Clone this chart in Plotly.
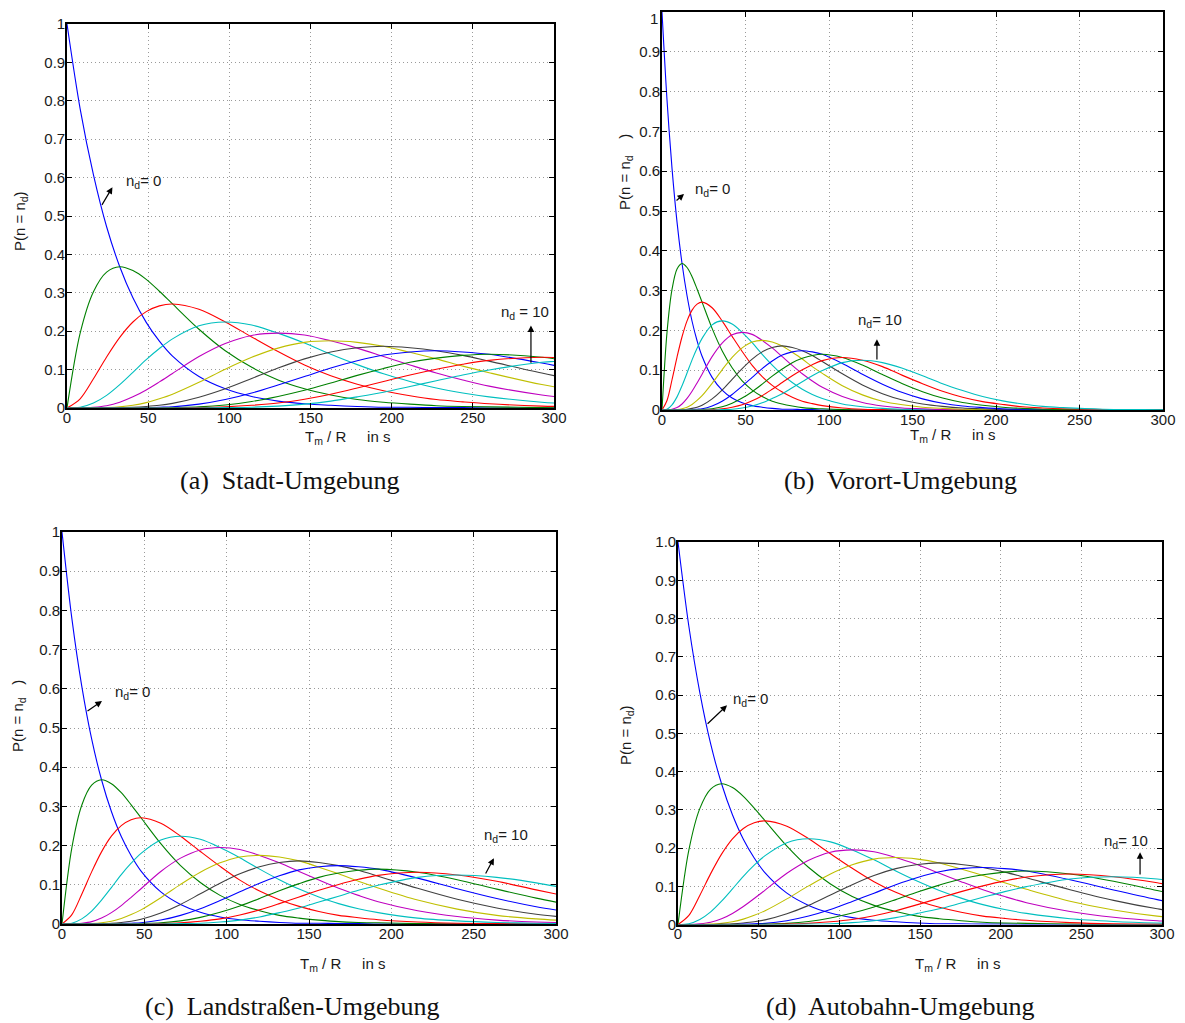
import plotly.graph_objects as go

# ---------------- data ----------------
# sample times (s) on the T_m / R axis for each environment
t_stadt = [0, 8.1, 16.3, 24.4, 32.5, 40.6, 48.8, 56.9, 65, 81.3, 97.5, 113.8, 130,
           146.3, 162.5, 178.8, 195, 211.3, 227.5, 243.8, 260, 292.5, 325]
t_vorort = [0, 3, 6, 9, 12, 15, 18, 21, 24, 30, 36, 42, 48, 54, 60, 66, 72, 78, 84, 90,
            96, 108, 120, 132, 144, 156, 168, 180, 192, 204, 216, 228, 240, 264, 288, 312]
t_land = [0, 6, 12, 18, 24, 30, 36, 42, 48, 60, 72, 84, 96, 108, 120, 132, 144, 156,
          168, 180, 192, 216, 240, 264, 288, 312]
t_autobahn = [0, 6.75, 13.5, 20.25, 27, 33.75, 40.5, 47.25, 54, 67.5, 81, 94.5, 108,
              121.5, 135, 148.5, 162, 175.5, 189, 202.5, 216, 243, 270, 297, 324]

# P(n = n_d) read at the sample positions (same shape in every panel, time-scaled)
p_nd0 = [1, .779, .607, .472, .368, .287, .223, .174, .135, .082, .050, .030, .018, .011,
         .007, .004, .002, .002, .001, .001, 0, 0, 0, 0, 0, 0, 0, 0, 0, 0, 0, 0, 0, 0, 0, 0]
p_nd1 = [0, .195, .303, .354, .368, .358, .335, .304, .271, .205, .149, .106, .073, .050,
         .034, .022, .015, .010, .006, .004, .003, .001, 0, 0, 0, 0, 0, 0, 0, 0, 0, 0, 0, 0, 0, 0]
p_nd2 = [0, .024, .076, .133, .184, .224, .251, .266, .271, .257, .224, .185, .147, .112,
         .084, .062, .045, .032, .022, .016, .011, .005, .002, .001, 0, 0, 0, 0, 0, 0, 0, 0, 0, 0, 0, 0]
p_nd3 = [0, .002, .013, .033, .061, .093, .126, .155, .180, .214, .224, .216, .195, .169,
         .140, .113, .089, .069, .052, .039, .029, .015, .008, .004, .002, .001, 0, 0, 0, 0, 0, 0, 0, 0, 0, 0]
p_nd4 = [0, 0, .002, .006, .015, .029, .047, .068, .090, .134, .168, .189, .195, .190,
         .175, .156, .134, .112, .091, .073, .057, .034, .019, .010, .005, .003, .001, .001, 0, 0, 0, 0, 0, 0, 0, 0]
p_nd5 = [0, 0, 0, .001, .003, .007, .014, .024, .036, .067, .101, .132, .156, .171,
         .175, .171, .161, .145, .128, .109, .092, .061, .038, .022, .013, .007, .004, .002, .001, 0, 0, 0, 0, 0, 0, 0]
p_nd6 = [0, 0, 0, 0, .001, .002, .004, .007, .012, .028, .050, .077, .104, .128,
         .146, .157, .161, .157, .149, .137, .122, .091, .063, .041, .025, .015, .009, .005, .003, .001, .001, 0, 0, 0, 0, 0]
p_nd7 = [0, 0, 0, 0, 0, 0, .001, .002, .003, .010, .022, .039, .060, .082,
         .104, .123, .138, .146, .149, .146, .140, .117, .090, .065, .044, .028, .017, .010, .006, .003, .002, .001, .001, 0, 0, 0]
p_nd8 = [0, 0, 0, 0, 0, 0, 0, 0, .001, .003, .008, .017, .030, .046,
         .065, .085, .103, .119, .130, .137, .140, .132, .113, .089, .066, .046, .030, .019, .012, .007, .004, .002, .001, 0, 0, 0]
p_nd9 = [0, 0, 0, 0, 0, 0, 0, 0, 0, .001, .003, .007, .013, .023,
         .036, .052, .069, .086, .101, .114, .124, .132, .125, .109, .087, .066, .047, .032, .021, .014, .008, .005, .003, .001, 0, 0]
p_nd10 = [0, 0, 0, 0, 0, 0, 0, 0, 0, 0, .001, .002, .005, .010,
          .018, .029, .041, .056, .071, .086, .099, .119, .125, .119, .105, .086, .066, .049, .034, .023, .015, .009, .006, .002, .001, 0]

x_ticks = [0, 50, 100, 150, 200, 250, 300]
y_ticks = [0, 0.1, 0.2, 0.3, 0.4, 0.5, 0.6, 0.7, 0.8, 0.9, 1.0]
y_labels = ["0", "0.1", "0.2", "0.3", "0.4", "0.5", "0.6", "0.7", "0.8", "0.9", "1"]
y_labels_b = ["0", "0.1", "0.2", "0.3", "0.4", "0.5", "0.6", "0.7", "0.8", "0.9", ""]  # "1" drawn below
y_labels_d = ["0", "0.1", "0.2", "0.3", "0.4", "0.5", "0.6", "0.7", "0.8", "0.9", "1.0"]

captions = ["(a)  Stadt-Umgebung", "(b)  Vorort-Umgebung",
            "(c)  Landstraßen-Umgebung", "(d)  Autobahn-Umgebung"]

# ---------------- styling ----------------
curves = [p_nd0, p_nd1, p_nd2, p_nd3, p_nd4, p_nd5, p_nd6, p_nd7, p_nd8, p_nd9, p_nd10]
colors = ["#0000ff", "#008000", "#ff0000", "#00bfbf", "#bf00bf", "#bfbf00", "#404040",
          "#0000ff", "#008000", "#ff0000", "#00bfbf"]

W, H = 1185, 1023
OFF = 8  # the page body margin shifts the figure by this many pixels


def fx(px):
    return (px - OFF) / W


def fy(py):
    return 1 - (py - OFF) / H


SANS = "Liberation Sans, Arial, Helvetica, sans-serif"
SERIF = "Liberation Serif, Times New Roman, serif"

# plot-box pixel extents (page pixels): left, right, top, bottom
boxes = [(67, 554, 24, 408), (662, 1163, 12, 410), (62, 556, 532, 924), (678, 1162, 542, 924.5)]
times = [t_stadt, t_vorort, t_land, t_autobahn]
ylabs = [y_labels, y_labels_b, y_labels, y_labels_d]

fig = go.Figure()
layout = dict(width=W, height=H, margin=dict(l=0, r=0, t=0, b=0, pad=0, autoexpand=False),
              paper_bgcolor="white", plot_bgcolor="white", showlegend=False)

for i, (box, t, yl) in enumerate(zip(boxes, times, ylabs)):
    sfx = "" if i == 0 else str(i + 1)
    xa, ya = "x" + sfx, "y" + sfx
    for n, p in enumerate(curves):
        fig.add_trace(go.Scatter(x=t, y=p[:len(t)], mode="lines",
                                 line=dict(color=colors[n], width=1.1, shape="spline", smoothing=0.9),
                                 xaxis=xa, yaxis=ya, hoverinfo="skip"))
    common = dict(ticks="inside", ticklen=5, tickcolor="black", showline=True,
                  linecolor="black", linewidth=1.6, mirror="ticks", showgrid=True,
                  gridcolor="#9a9a9a", griddash="1px,3px", gridwidth=1, zeroline=False,
                  automargin=False, ticklabeloverflow="allow",
                  tickfont=dict(family=SANS, size=15, color="#1a1a1a"))
    layout["xaxis" + sfx] = dict(domain=[fx(box[0]), fx(box[1])], anchor=ya, range=[0, 300],
                                 tickvals=x_ticks, ticktext=[str(v) for v in x_ticks],
                                 ticklabelstandoff=-5, **common)
    layout["yaxis" + sfx] = dict(domain=[fy(box[3]), fy(box[2])], anchor=xa, range=[0, 1],
                                 tickvals=y_ticks, ticktext=yl, ticklabelstandoff=-3, **common)

fig.update_layout(**layout)

ann = []
# top tick label of panel (b), kept fully inside the page
ann.append(dict(text="1", x=fx(660), y=1, xref="paper", yref="paper", showarrow=False,
                xanchor="right", yanchor="top", font=dict(family=SANS, size=15, color="#1a1a1a")))
# y-axis titles
ytitles = [("P(n = n<sub>d</sub>)", 20, 221), ("P(n = n<sub>d</sub>    )", 626, 172),
           ("P(n = n<sub>d</sub>   )", 18, 716), ("P(n = n<sub>d</sub>)", 626, 735)]
for txt, px, py in ytitles:
    ann.append(dict(text=txt, x=fx(px), y=fy(py), xref="paper", yref="paper", showarrow=False,
                    textangle=-90, xanchor="center", yanchor="middle",
                    font=dict(family=SANS, size=15, color="#1a1a1a")))
# x-axis titles
xtitles = [(347, 437), (952, 435), (342, 964), (957, 964)]
for px, py in xtitles:
    ann.append(dict(text="T<sub>m</sub> / R     in s", x=fx(px), y=fy(py), xref="paper", yref="paper",
                    showarrow=False, xanchor="center", yanchor="middle",
                    font=dict(family=SANS, size=15, color="#1a1a1a")))
# captions
cpos = [(290, 480), (900, 480), (292, 1006), (900, 1006)]
for txt, (px, py) in zip(captions, cpos):
    ann.append(dict(text=txt, x=fx(px), y=fy(py), xref="paper", yref="paper", showarrow=False,
                    xanchor="center", yanchor="middle",
                    font=dict(family=SERIF, size=26, color="#111111")))

# curve labels with arrows: (axis suffix, text, text x, text y, head x, head y, tail x, tail y)
labels = [
    ("", "n<sub>d</sub>= 0", 35, 0.59, 28, 0.575, 21, 0.525),
    ("", "n<sub>d</sub> = 10", 266, 0.249, 285.8, 0.215, 285.8, 0.114),
    ("2", "n<sub>d</sub>= 0", 18.6, 0.555, 13.2, 0.543, 7.8, 0.523),
    ("2", "n<sub>d</sub>= 10", 116.2, 0.224, 128.7, 0.178, 128.7, 0.123),
    ("3", "n<sub>d</sub>= 0", 30.8, 0.59, 24.3, 0.569, 14.6, 0.541),
    ("3", "n<sub>d</sub>= 10", 254.8, 0.227, 262.3, 0.168, 256.8, 0.125),
    ("4", "n<sub>d</sub>= 0", 32.9, 0.589, 30.4, 0.573, 17.4, 0.521),
    ("4", "n<sub>d</sub>= 10", 262.9, 0.216, 286.4, 0.189, 286.4, 0.127),
]
for sfx, txt, tx, ty, hx, hy, ax_, ay_ in labels:
    ann.append(dict(text=txt, x=tx, y=ty, xref="x" + sfx, yref="y" + sfx, showarrow=False,
                    xanchor="left", yanchor="middle",
                    font=dict(family=SANS, size=15, color="#1a1a1a")))
    ann.append(dict(text="", x=hx, y=hy, xref="x" + sfx, yref="y" + sfx,
                    ax=ax_, ay=ay_, axref="x" + sfx, ayref="y" + sfx, showarrow=True,
                    arrowhead=2, arrowsize=1.1, arrowwidth=1.2, arrowcolor="black", standoff=0,
                    startstandoff=0))

fig.update_layout(annotations=ann)
fig.write_html("out.html")
